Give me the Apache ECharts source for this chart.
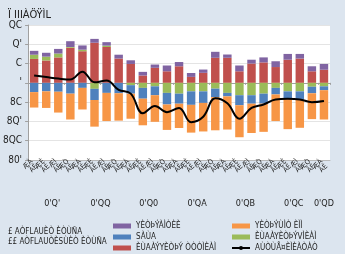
<!DOCTYPE html>
<html>
<head>
<meta charset="utf-8">
<script src="https://cdn.jsdelivr.net/npm/echarts@6/dist/echarts.min.js"></script>
<style>
  html, body { margin: 0; padding: 0; background: #dce5ef; }
  #chart { width: 345px; height: 254px; }
</style>
</head>
<body>
<div id="chart"></div>
<script>
// data (quarters 2010Q1 .. 2016Q1)
const quarterLabels = ['ÆÀ\nÃÈ', 'ÆÈ\nÃÈ', 'ÆÌ\nÃÈ', 'ÆÒ\nÃÈ'];
const years = ["0'Q'", "0'QQ", "0'Q0", "0'QA", "0'QB", "0'QC", "0'QD"];
const yTickLabels = {'15': 'QC', '10': "Q'", '5': 'C', '0': "'", '-5': '8C', '-10': "8Q'", '-15': '8QC', '-20': "80'"};

const seriesNames = ['ÈÙAÀÝYÈÒÞÝ ÒÒÒÌÈÀÌ', 'ÈÙAÀYÈÒÞÝVÌÈÀÌ', 'YÈÒÞÝÀÌÒÈÈ', 'SÀÙA', 'YÈÒÞÝÙÌÒ ÈÌÌ', 'AÙÒÙÅ¤ÈÌÈÀÒÀÒ'];
const redVals    = [6.2, 5.8, 6.6, 9.1, 8.2, 10.4, 9.3, 6.3, 4.9, 1.9, 3.9, 3.0, 4.3, 1.55, 2.6, 6.5, 6.5, 3.0, 5.0, 5.3, 4.1, 6.0, 6.3, 3.0, 3.4];
const greenVals  = [1.1, 1.0, 1.0, 0.2, 0.4, -1.55, 0.35, 0, -0.6, -1.3, -0.9, -2.6, -2.8, -2.2, -2.2, -1.5, -2.6, -3.2, -3.2, -2.8, -1.3, -2.2, -2.2, -1.0, -0.9];
const purpleVals = [1.0, 1.0, 1.2, 1.5, 1.1, 1.0, 0.9, 1.0, 0.95, 0.95, 0.85, 1.5, 1.1, 1.0, 0.85, 1.55, 0.85, 1.5, 1.0, 1.3, 1.5, 1.5, 1.2, 1.3, 1.5];
const blueVals   = [-2.4, -2.2, -2.3, -2.8, -1.3, -2.9, -2.6, -2.7, -2.2, -2.8, -2.3, -3.0, -2.6, -3.5, -3.0, -2.2, -0.9, -2.6, -2.2, -2.6, -1.7, -1.9, -2.15, -1.7, -1.0];
const orangeVals = [-4.0, -4.3, -5.4, -6.7, -5.6, -6.9, -7.3, -7.1, -6.5, -6.9, -6.9, -6.6, -6.3, -7.2, -7.4, -8.6, -8.6, -8.3, -7.6, -7.3, -6.9, -7.9, -7.3, -6.7, -7.6];
const lineVals   = [1.9, 1.5, 1.1, 0.85, 2.9, 0.15, 0.6, -1.8, -2.8, -7.9, -6.0, -7.6, -6.5, -10.2, -8.8, -4.0, -5.3, -9.3, -6.5, -5.6, -4.3, -4.1, -4.3, -5.0, -4.7];

const categories = redVals.map((v, i) => quarterLabels[i % 4]);
const yearOfCat = redVals.map((v, i) => years[Math.floor(i / 4)]);

const FONT = '"Liberation Sans Narrow", "DejaVu Sans Condensed", sans-serif';
const chart = echarts.init(document.getElementById('chart'));

const barBase = { type: 'bar', stack: 'c', barWidth: '70%', xAxisIndex: 0 };
const legendBase = {
    orient: 'vertical', top: 221, height: 40, itemGap: 1,
    itemWidth: 18, itemHeight: 5, padding: 0,
    textStyle: { fontSize: 8, color: '#222', lineHeight: 10, fontFamily: FONT }
};

const option = {
    backgroundColor: '#dce5ef',
    animation: false,
    textStyle: { fontFamily: FONT },
    title: [
        {
            text: 'Ï IIIÀÖŸÌL',
            left: 3, top: 5,
            textStyle: { fontSize: 11, fontWeight: 'normal', color: '#222', fontFamily: FONT }
        },
        {
            text: '£ AÒFLAUÈÒ ÈÒÙÑA\n££ AÒFLAUÒÈSÙÈÒ ÈÒÙÑA',
            left: 3, top: 222,
            textStyle: { fontSize: 8, fontWeight: 'normal', color: '#222', lineHeight: 10, fontFamily: FONT }
        }
    ],
    legend: [
        {
            ...legendBase, left: 113,
            data: [
                {name: seriesNames[2], icon: 'rect'},
                {name: seriesNames[3], icon: 'rect'},
                {name: seriesNames[0], icon: 'rect'}
            ]
        },
        {
            ...legendBase, left: 231,
            data: [
                {name: seriesNames[4], icon: 'rect'},
                {name: seriesNames[1], icon: 'rect'},
                seriesNames[5]
            ]
        }
    ],
    grid: {
        left: 25, right: 15, top: 25, bottom: 94,
        show: true, backgroundColor: '#ffffff', borderWidth: 0
    },
    xAxis: [
        {
            type: 'category', data: categories, position: 'bottom',
            axisLine: { onZero: false, lineStyle: { color: '#b9b9b9' } },
            axisTick: { interval: (i) => i % 4 === 0, length: 50, lineStyle: { color: '#a0a0a0' } },
            axisLabel: { interval: 0, rotate: 45, fontSize: 7, lineHeight: 7, color: '#222', margin: 3 }
        },
        {
            type: 'category', data: categories, position: 'bottom',
            axisLine: { onZero: true, lineStyle: { color: '#a0a0a0' } },
            axisTick: { show: true, length: 2, lineStyle: { color: '#a0a0a0' } },
            axisLabel: { show: false }
        },
        {
            type: 'category', data: yearOfCat, position: 'bottom',
            axisLine: { show: false, onZero: false },
            axisTick: { show: false },
            axisLabel: {
                interval: (i) => i % 4 === 1 || i === 24,
                margin: 39, fontSize: 9, color: '#222',
                formatter: (v, i) => i === 24 ? v : '{s|' + v + '}',
                rich: { s: { fontSize: 9, color: '#222', padding: [0, 0, 0, 12], fontFamily: FONT } }
            }
        }
    ],
    yAxis: {
        type: 'value', min: -20, max: 15, interval: 5,
        axisLine: { show: true, lineStyle: { color: '#a0a0a0' } },
        axisTick: { show: true, length: 3, lineStyle: { color: '#a0a0a0' } },
        axisLabel: { fontSize: 10, color: '#222', margin: 6, formatter: (v) => yTickLabels[String(v)] },
        splitLine: { lineStyle: { color: '#e4e4e4' } }
    },
    series: [
        { ...barBase, name: seriesNames[0], data: redVals, itemStyle: { color: '#c0504d' } },
        { ...barBase, name: seriesNames[1], data: greenVals, itemStyle: { color: '#9bbb59' } },
        { ...barBase, name: seriesNames[2], data: purpleVals, itemStyle: { color: '#8064a2' } },
        { ...barBase, name: seriesNames[3], data: blueVals, itemStyle: { color: '#4f81bd' } },
        { ...barBase, name: seriesNames[4], data: orangeVals, itemStyle: { color: '#f79646' } },
        {
            type: 'line', name: seriesNames[5], data: lineVals, xAxisIndex: 0,
            smooth: 0.4, symbol: 'none',
            lineStyle: { color: '#000', width: 2 }, itemStyle: { color: '#000' }
        }
    ]
};

chart.setOption(option);
</script>
</body>
</html>
